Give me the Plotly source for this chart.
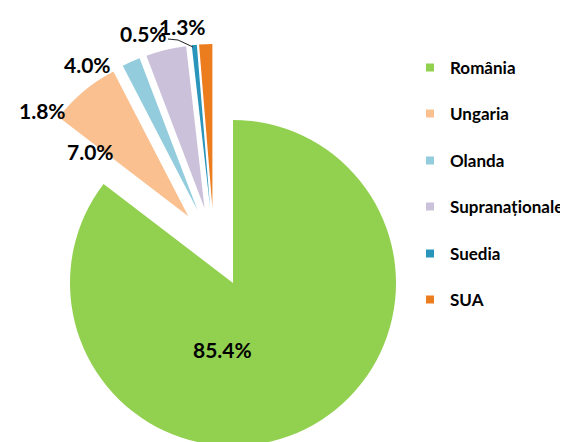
import math
import plotly.graph_objects as go

# ---- data ----
labels = ["România", "Ungaria", "Olanda", "Supranaționale", "Suedia", "SUA"]
values = [85.4, 7.0, 1.8, 4.0, 0.5, 1.3]
colors = ["#92D050", "#FAC090", "#93CDDD", "#CCC1DA", "#2A95BA", "#EC7D1E"]
exploded = [False, True, True, True, True, True]

# ---- layout / geometry (pixels) ----
W, H = 568, 442
CX, CY = 225, 275        # pie centre
R = 163                  # pie radius
PULL_PX = 40             # radial explosion distance of pulled slices
SHIFT_X, SHIFT_Y = -19, -36   # common offset of the exploded group

# label positions (px) for each slice's percentage label
label_pos = [(214, 341), (82, 144), (34, 102), (79, 57), (135, 25), (174, 19)]
# legend rows (px, centre of row)
legend_x = 402
legend_rows_y = [60, 106, 153, 199, 246, 292]

FONT = "Lato"
TRANSP = "rgba(0,0,0,0)"


def domain_for(cx, cy, r):
    return dict(x=[max(0.0, (cx - r) / W), min(1.0, (cx + r) / W)],
                y=[max(0.0, 1 - (cy + r) / H), min(1.0, 1 - (cy - r) / H)])


fig = go.Figure()
total = sum(values)

# legend-only tiny pies (hidden under the main slice), one legend each
for i, (lab, v, c) in enumerate(zip(labels, values, colors)):
    lname = "legend" if i == 0 else f"legend{i + 1}"
    fig.add_trace(go.Pie(
        labels=[lab], values=[v],
        marker=dict(colors=[c], line=dict(width=4, color="white")),
        domain=dict(x=[0.40, 0.401], y=[0.2, 0.201]),
        textinfo="none", hoverinfo="skip", showlegend=True, legend=lname,
        sort=False,
    ))

# slice traces: each draws one slice, others transparent
cum = 0.0
for i, (lab, v, c) in enumerate(zip(labels, values, colors)):
    mid = 2 * math.pi * (cum + v / 2) / total   # clockwise from 12 o'clock
    cum += v
    if exploded[i]:
        cx = CX + SHIFT_X + PULL_PX * math.sin(mid)
        cy = CY + SHIFT_Y - PULL_PX * math.cos(mid)
    else:
        cx, cy = CX, CY
    cols = [c if j == i else TRANSP for j in range(len(labels))]
    fig.add_trace(go.Pie(
        labels=labels, values=values,
        marker=dict(colors=cols, line=dict(width=0)),
        domain=domain_for(cx, cy, R),
        sort=False, direction="clockwise", rotation=0,
        textinfo="none", hoverinfo="label+percent", showlegend=False,
    ))

# percentage labels
annotations = []
for i, v in enumerate(values):
    px, py = label_pos[i]
    annotations.append(dict(
        x=px / W, y=1 - py / H, xref="paper", yref="paper",
        text=f"{v:.1f}%", showarrow=False, xanchor="center", yanchor="middle",
        font=dict(family=FONT, size=21, color="#000000", weight="bold"),
    ))

# leader line for Suedia label
shapes = [dict(type="path", xref="paper", yref="paper",
               path=f"M {160 / W},{1 - 31 / H} L {170 / W},{1 - 32 / H} L {185 / W},{1 - 39 / H}",
               line=dict(color="#222222", width=1))]

layout_legends = {}
for i, yy in enumerate(legend_rows_y):
    key = "legend" if i == 0 else f"legend{i + 1}"
    layout_legends[key] = dict(
        x=legend_x / W, y=1 - yy / H, xanchor="left", yanchor="middle",
        font=dict(family=FONT, size=17, color="#000000", weight="bold"),
        bgcolor=TRANSP, borderwidth=0,
    )

fig.update_layout(
    width=W, height=H,
    margin=dict(l=0, r=0, t=0, b=0, autoexpand=False),
    paper_bgcolor="white", plot_bgcolor="white",
    template="none",
    annotations=annotations,
    shapes=shapes,
    **layout_legends,
)

fig.write_html("out.html")
